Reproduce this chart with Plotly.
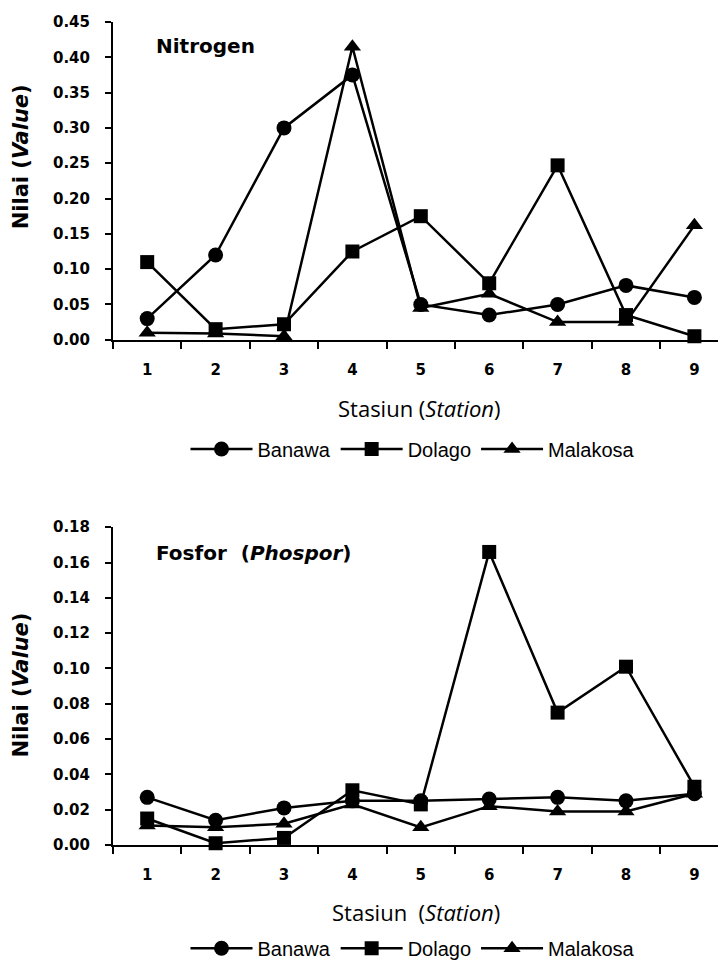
import plotly.graph_objects as go
from plotly.subplots import make_subplots

stations = ["1", "2", "3", "4", "5", "6", "7", "8", "9"]
series_names = ["Banawa", "Dolago", "Malakosa"]
symbols = ["circle", "square", "triangle-up"]

# Nitrogen
n_banawa = [0.03, 0.12, 0.30, 0.375, 0.05, 0.035, 0.05, 0.077, 0.06]
n_dolago = [0.11, 0.015, 0.022, 0.125, 0.175, 0.08, 0.247, 0.035, 0.005]
n_malakosa = [0.01, 0.009, 0.005, 0.415, 0.045, 0.065, 0.025, 0.025, 0.162]

# Fosfor (Phospor)
p_banawa = [0.027, 0.014, 0.021, 0.025, 0.025, 0.026, 0.027, 0.025, 0.029]
p_dolago = [0.015, 0.001, 0.004, 0.031, 0.023, 0.166, 0.075, 0.101, 0.033]
p_malakosa = [0.011, 0.01, 0.012, 0.023, 0.01, 0.022, 0.019, 0.019, 0.029]

# page has an 8px body margin, so positions are given in page pixels
OFF = 8
K = 1.011  # small vertical stretch, the render came out a touch short
W, H = 718, 960
M_L, M_R, M_T = 105, 0, 14


def ypage(y):
    return 22 + (y - 22) * K


M_B = H - (ypage(843) - OFF)
PW = W - M_L - M_R
PH = H - M_T - M_B
STEP = 68.4  # px per station


def py(y):
    # page pixel row -> paper fraction
    return (H - M_B - (ypage(y) - OFF)) / PH


def px(x):
    return (x - OFF - M_L) / PW


fig = make_subplots(rows=2, cols=1)
fig.update_layout(
    yaxis=dict(domain=[py(339), 1.0]),
    yaxis2=dict(domain=[0.0, py(526)]),
)

tick_font = dict(family="DejaVu Sans", size=15, color="black", weight="bold")
leg_font = dict(family="Liberation Sans", size=20, color="black")
marker_sizes = {"circle": 15, "square": 14, "triangle-up": 15}

for row, data, legend_id in [
    (1, [n_banawa, n_dolago, n_malakosa], "legend"),
    (2, [p_banawa, p_dolago, p_malakosa], "legend2"),
]:
    for name, sym, vals in zip(series_names, symbols, data):
        fig.add_trace(
            go.Scatter(
                x=stations,
                y=vals,
                name=name,
                mode="lines+markers",
                line=dict(color="black", width=2.5),
                marker=dict(symbol=sym, size=marker_sizes[sym], color="black"),
                cliponaxis=False,
                legend=legend_id,
            ),
            row=row,
            col=1,
        )

for row, ymax, dt in [(1, 0.45, 0.05), (2, 0.18, 0.02)]:
    fig.update_xaxes(
        type="category",
        range=[-0.5, -0.5 + PW / STEP],
        showline=True, linecolor="black", linewidth=2,
        ticks="outside", tickson="boundaries", ticklen=7, tickwidth=2,
        tickcolor="black", tickfont=tick_font, ticklabelstandoff=15,
        showgrid=False, zeroline=False,
        row=row, col=1,
    )
    fig.update_yaxes(
        range=[0, ymax], dtick=dt, tickformat=".2f",
        showline=True, linecolor="black", linewidth=2,
        ticks="outside", ticklen=6, tickwidth=2, tickcolor="black",
        tickfont=tick_font, ticklabelstandoff=12,
        showgrid=False, zeroline=False,
        row=row, col=1,
    )

title_font = dict(family="Open Sans", size=22, color="black")
ytitle_font = dict(family="DejaVu Sans", size=21, color="black", weight="bold")
head_font = dict(family="DejaVu Sans", size=20, color="black", weight="bold")

annotations = [
    dict(text="Nitrogen", x=px(154), y=py(46), xanchor="left", font=head_font),
    dict(text="Fosfor  (<i>Phospor</i>)", x=px(154), y=py(552), xanchor="left",
         font=head_font),
    dict(text="Stasiun (<i>Station</i>)", x=px(419), y=py(407), font=title_font),
    dict(text="Stasiun  (<i>Station</i>)", x=px(416), y=py(910), font=title_font),
    dict(text="Nilai (<i>Value</i>)", x=px(21), y=py(157), textangle=-90,
         font=ytitle_font),
    dict(text="Nilai (<i>Value</i>)", x=px(21), y=py(684), textangle=-90,
         font=ytitle_font),
]
for a in annotations:
    a.update(xref="paper", yref="paper", showarrow=False, yanchor="middle")
    a.setdefault("xanchor", "center")

legend_common = dict(
    orientation="h", xanchor="center", yanchor="middle",
    font=leg_font, itemwidth=62, bgcolor="rgba(0,0,0,0)",
    tracegroupgap=0, itemclick=False,
)

fig.update_layout(
    width=W, height=H,
    margin=dict(l=M_L, r=M_R, t=M_T, b=M_B),
    plot_bgcolor="white", paper_bgcolor="white",
    annotations=annotations,
    legend=dict(x=px(413), y=py(448), **legend_common),
    legend2=dict(x=px(413), y=py(946), **legend_common),
    showlegend=True,
)

fig.write_html("out.html")
